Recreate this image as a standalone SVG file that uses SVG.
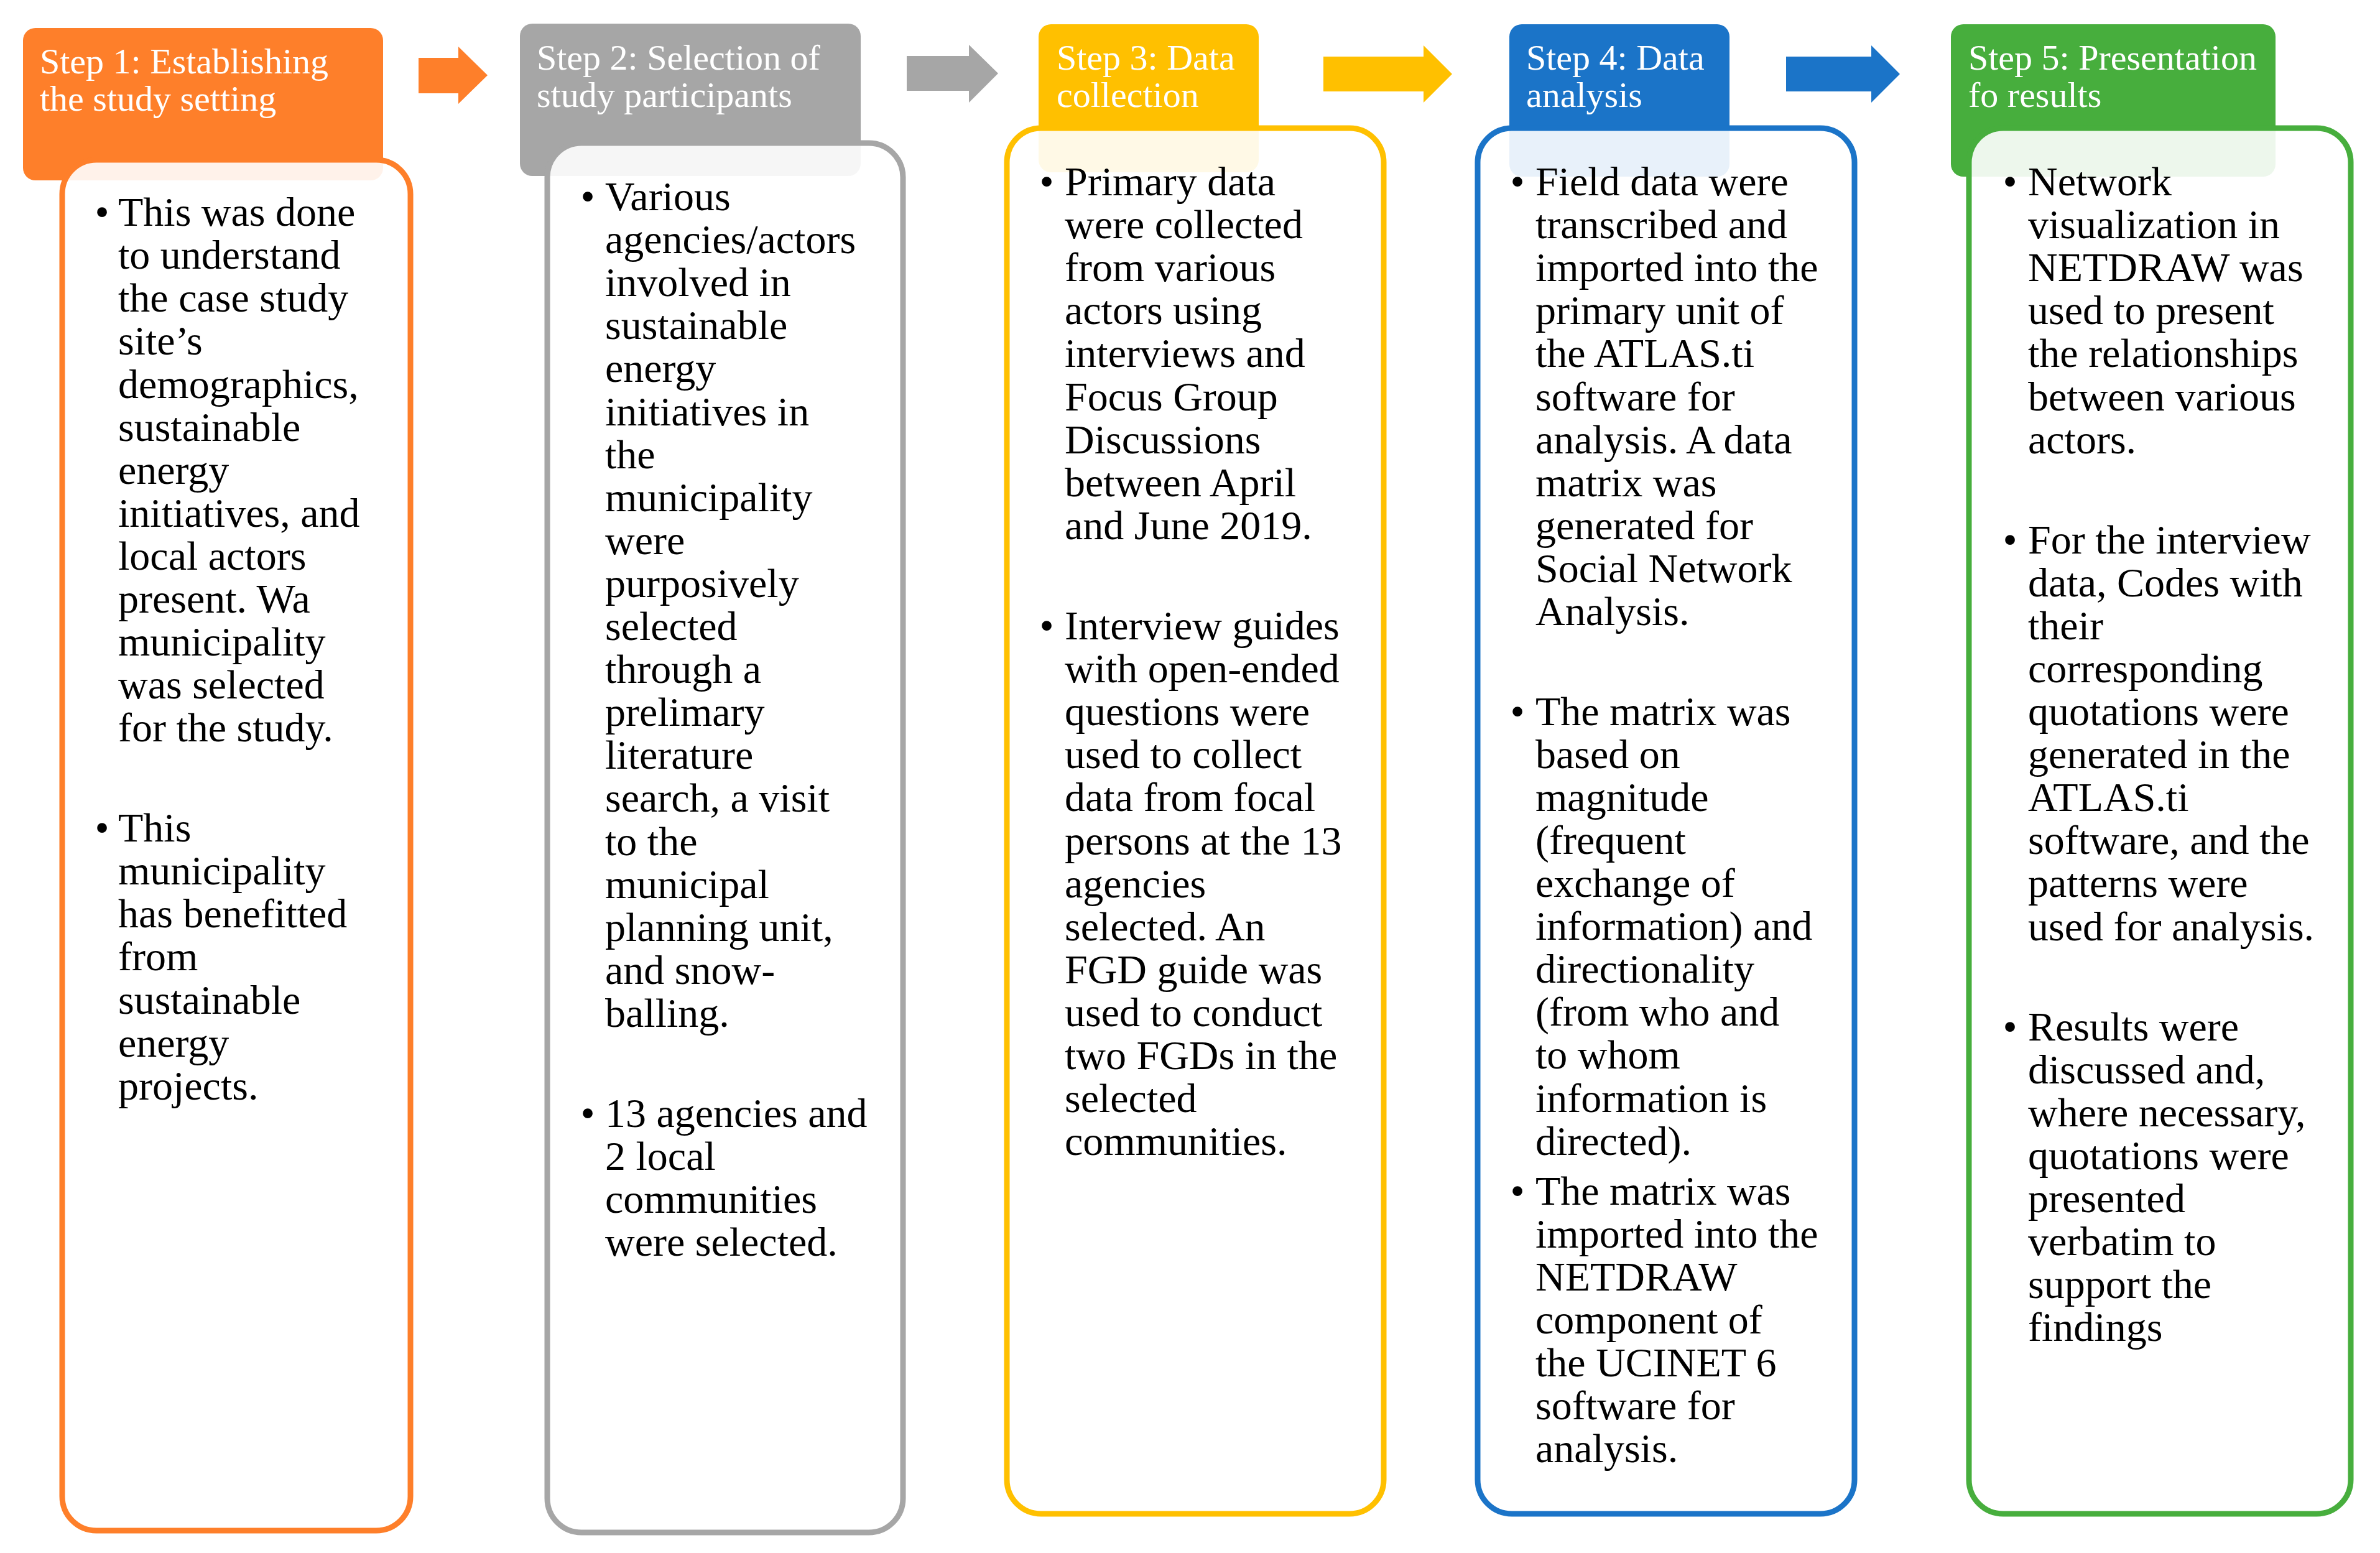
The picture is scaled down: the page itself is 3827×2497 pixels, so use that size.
<svg xmlns="http://www.w3.org/2000/svg" width="3827" height="2497" viewBox="0 0 3827 2497">
<style>
.hd{font-family:"Liberation Serif","Times New Roman",serif;font-size:58px;fill:#fff}
.bt{font-family:"Liberation Serif","Times New Roman",serif;font-size:66px;fill:#000}
.bl{font-family:"Liberation Serif","Times New Roman",serif;font-size:66px;fill:#000;text-anchor:middle}
.body{fill:#fff;fill-opacity:0.9;stroke-width:9}
</style>
<rect x="0" y="0" width="3827" height="2497" fill="#fff"/>
<g id="connectors">
<polygon points="673,93 737,93 737,75 784,121 737,167 737,150 673,150" fill="#FE7F2A"/>
<polygon points="1458,90 1558,90 1558,72 1605,118 1558,165 1558,146 1458,146" fill="#A6A6A6"/>
<polygon points="2128,91 2289,91 2289,73 2335,119 2289,165 2289,147 2128,147" fill="#FFC000"/>
<polygon points="2872,91 3009,91 3009,73 3055,119 3009,165 3009,147 2872,147" fill="#1B74C8"/>
</g>
<g id="step1">
<rect x="37" y="45" width="579" height="245" rx="20" fill="#FE7F2A"/>
<text class="hd"><tspan x="64" y="118">Step 1: Establishing</tspan><tspan x="64" y="178">the study setting</tspan></text>
<rect class="body" x="100" y="257" width="560" height="2204" rx="55" stroke="#FE7F2A"/>
<text class="bl"><tspan x="164" y="363">•</tspan><tspan x="164" y="1353">•</tspan></text>
<text class="bt">
<tspan x="190" y="363">This was done</tspan>
<tspan x="190" y="432">to understand</tspan>
<tspan x="190" y="501">the case study</tspan>
<tspan x="190" y="570">site’s</tspan>
<tspan x="190" y="640">demographics,</tspan>
<tspan x="190" y="709">sustainable</tspan>
<tspan x="190" y="778">energy</tspan>
<tspan x="190" y="847">initiatives, and</tspan>
<tspan x="190" y="916">local actors</tspan>
<tspan x="190" y="985">present. Wa</tspan>
<tspan x="190" y="1054">municipality</tspan>
<tspan x="190" y="1123">was selected</tspan>
<tspan x="190" y="1192">for the study.</tspan>
<tspan x="190" y="1353">This</tspan>
<tspan x="190" y="1422">municipality</tspan>
<tspan x="190" y="1491">has benefitted</tspan>
<tspan x="190" y="1560">from</tspan>
<tspan x="190" y="1630">sustainable</tspan>
<tspan x="190" y="1699">energy</tspan>
<tspan x="190" y="1768">projects.</tspan>
</text>
</g>
<g id="step2">
<rect x="836" y="38" width="548" height="245" rx="20" fill="#A6A6A6"/>
<text class="hd"><tspan x="863" y="112">Step 2: Selection of</tspan><tspan x="863" y="172">study participants</tspan></text>
<rect class="body" x="880" y="230" width="572" height="2234" rx="55" stroke="#A6A6A6"/>
<text class="bl"><tspan x="945" y="338">•</tspan><tspan x="945" y="1812">•</tspan></text>
<text class="bt">
<tspan x="973" y="338">Various</tspan>
<tspan x="973" y="407">agencies/actors</tspan>
<tspan x="973" y="476">involved in</tspan>
<tspan x="973" y="545">sustainable</tspan>
<tspan x="973" y="614">energy</tspan>
<tspan x="973" y="684">initiatives in</tspan>
<tspan x="973" y="753">the</tspan>
<tspan x="973" y="822">municipality</tspan>
<tspan x="973" y="891">were</tspan>
<tspan x="973" y="960">purposively</tspan>
<tspan x="973" y="1029">selected</tspan>
<tspan x="973" y="1098">through a</tspan>
<tspan x="973" y="1167">prelimary</tspan>
<tspan x="973" y="1236">literature</tspan>
<tspan x="973" y="1305">search, a visit</tspan>
<tspan x="973" y="1375">to the</tspan>
<tspan x="973" y="1444">municipal</tspan>
<tspan x="973" y="1513">planning unit,</tspan>
<tspan x="973" y="1582">and snow-</tspan>
<tspan x="973" y="1651">balling.</tspan>
<tspan x="973" y="1812">13 agencies and</tspan>
<tspan x="973" y="1881">2 local</tspan>
<tspan x="973" y="1950">communities</tspan>
<tspan x="973" y="2019">were selected.</tspan>
</text>
</g>
<g id="step3">
<rect x="1670" y="39" width="354" height="238" rx="20" fill="#FFC000"/>
<text class="hd"><tspan x="1699" y="112">Step 3: Data</tspan><tspan x="1699" y="172">collection</tspan></text>
<rect class="body" x="1619" y="206" width="606" height="2228" rx="55" stroke="#FFC000"/>
<text class="bl"><tspan x="1683" y="314">•</tspan><tspan x="1683" y="1028">•</tspan></text>
<text class="bt">
<tspan x="1712" y="314">Primary data</tspan>
<tspan x="1712" y="383">were collected</tspan>
<tspan x="1712" y="452">from various</tspan>
<tspan x="1712" y="521">actors using</tspan>
<tspan x="1712" y="590">interviews and</tspan>
<tspan x="1712" y="660">Focus Group</tspan>
<tspan x="1712" y="729">Discussions</tspan>
<tspan x="1712" y="798">between April</tspan>
<tspan x="1712" y="867">and June 2019.</tspan>
<tspan x="1712" y="1028">Interview guides</tspan>
<tspan x="1712" y="1097">with open-ended</tspan>
<tspan x="1712" y="1166">questions were</tspan>
<tspan x="1712" y="1235">used to collect</tspan>
<tspan x="1712" y="1304">data from focal</tspan>
<tspan x="1712" y="1374">persons at the 13</tspan>
<tspan x="1712" y="1443">agencies</tspan>
<tspan x="1712" y="1512">selected. An</tspan>
<tspan x="1712" y="1581">FGD guide was</tspan>
<tspan x="1712" y="1650">used to conduct</tspan>
<tspan x="1712" y="1719">two FGDs in the</tspan>
<tspan x="1712" y="1788">selected</tspan>
<tspan x="1712" y="1857">communities.</tspan>
</text>
</g>
<g id="step4">
<rect x="2427" y="39" width="354" height="245" rx="20" fill="#1B74C8"/>
<text class="hd"><tspan x="2454" y="112">Step 4: Data</tspan><tspan x="2454" y="172">analysis</tspan></text>
<rect class="body" x="2376" y="206" width="606" height="2228" rx="55" stroke="#1B74C8"/>
<text class="bl"><tspan x="2440" y="314">•</tspan><tspan x="2440" y="1166">•</tspan><tspan x="2440" y="1937">•</tspan></text>
<text class="bt">
<tspan x="2469" y="314">Field data were</tspan>
<tspan x="2469" y="383">transcribed and</tspan>
<tspan x="2469" y="452">imported into the</tspan>
<tspan x="2469" y="521">primary unit of</tspan>
<tspan x="2469" y="590">the ATLAS.ti</tspan>
<tspan x="2469" y="660">software for</tspan>
<tspan x="2469" y="729">analysis. A data</tspan>
<tspan x="2469" y="798">matrix was</tspan>
<tspan x="2469" y="867">generated for</tspan>
<tspan x="2469" y="936">Social Network</tspan>
<tspan x="2469" y="1005">Analysis.</tspan>
<tspan x="2469" y="1166">The matrix was</tspan>
<tspan x="2469" y="1235">based on</tspan>
<tspan x="2469" y="1304">magnitude</tspan>
<tspan x="2469" y="1373">(frequent</tspan>
<tspan x="2469" y="1442">exchange of</tspan>
<tspan x="2469" y="1511">information) and</tspan>
<tspan x="2469" y="1580">directionality</tspan>
<tspan x="2469" y="1649">(from who and</tspan>
<tspan x="2469" y="1718">to whom</tspan>
<tspan x="2469" y="1788">information is</tspan>
<tspan x="2469" y="1857">directed).</tspan>
<tspan x="2469" y="1937">The matrix was</tspan>
<tspan x="2469" y="2006">imported into the</tspan>
<tspan x="2469" y="2075">NETDRAW</tspan>
<tspan x="2469" y="2144">component of</tspan>
<tspan x="2469" y="2213">the UCINET 6</tspan>
<tspan x="2469" y="2282">software for</tspan>
<tspan x="2469" y="2351">analysis.</tspan>
</text>
</g>
<g id="step5">
<rect x="3137" y="39" width="522" height="245" rx="20" fill="#47AE3D"/>
<text class="hd"><tspan x="3165" y="112">Step 5: Presentation</tspan><tspan x="3165" y="172">fo results</tspan></text>
<rect class="body" x="3166" y="206" width="614" height="2228" rx="55" stroke="#47AE3D"/>
<text class="bl"><tspan x="3232" y="314">•</tspan><tspan x="3232" y="890">•</tspan><tspan x="3232" y="1673">•</tspan></text>
<text class="bt">
<tspan x="3261" y="314">Network</tspan>
<tspan x="3261" y="383">visualization in</tspan>
<tspan x="3261" y="452">NETDRAW was</tspan>
<tspan x="3261" y="521">used to present</tspan>
<tspan x="3261" y="590">the relationships</tspan>
<tspan x="3261" y="660">between various</tspan>
<tspan x="3261" y="729">actors.</tspan>
<tspan x="3261" y="890">For the interview</tspan>
<tspan x="3261" y="959">data, Codes with</tspan>
<tspan x="3261" y="1028">their</tspan>
<tspan x="3261" y="1097">corresponding</tspan>
<tspan x="3261" y="1166">quotations were</tspan>
<tspan x="3261" y="1235">generated in the</tspan>
<tspan x="3261" y="1304">ATLAS.ti</tspan>
<tspan x="3261" y="1373">software, and the</tspan>
<tspan x="3261" y="1442">patterns were</tspan>
<tspan x="3261" y="1512">used for analysis.</tspan>
<tspan x="3261" y="1673">Results were</tspan>
<tspan x="3261" y="1742">discussed and,</tspan>
<tspan x="3261" y="1811">where necessary,</tspan>
<tspan x="3261" y="1880">quotations were</tspan>
<tspan x="3261" y="1949">presented</tspan>
<tspan x="3261" y="2018">verbatim to</tspan>
<tspan x="3261" y="2087">support the</tspan>
<tspan x="3261" y="2156">findings</tspan>
</text>
</g>
</svg>
